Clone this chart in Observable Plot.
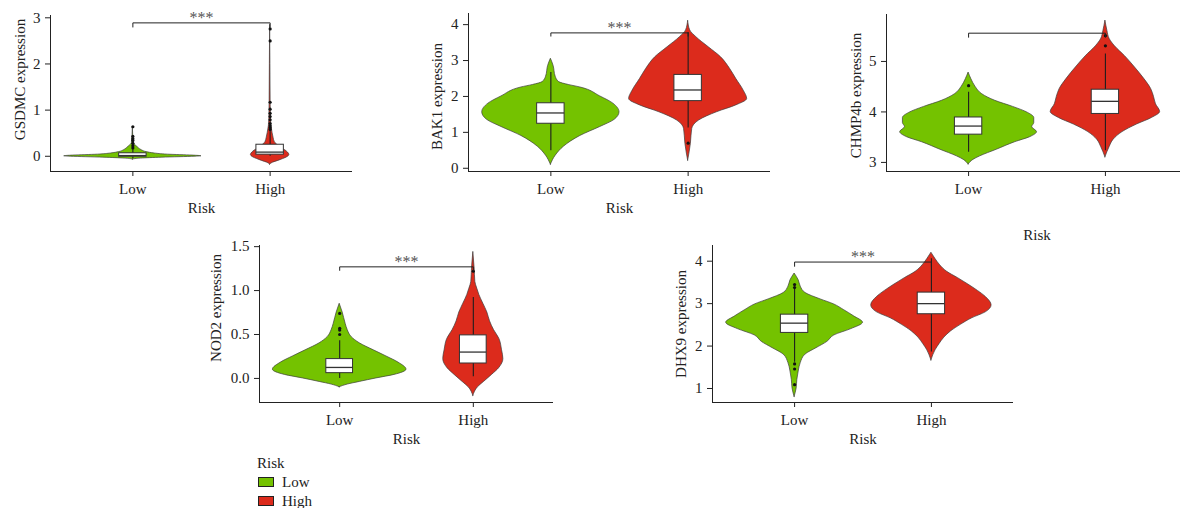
<!DOCTYPE html>
<html>
<head>
<meta charset="utf-8">
<script src="https://cdn.jsdelivr.net/npm/d3@7"></script>
<script src="https://cdn.jsdelivr.net/npm/@observablehq/plot@0.6"></script>
<style>
  html, body { margin: 0; padding: 0; background: #fff; }
  #root { position: relative; width: 1180px; height: 508px; overflow: hidden; background: #fff;
          font-family: "Liberation Serif", "DejaVu Serif", serif; color: #222; }
  .panel { position: absolute; }
  .legend { position: absolute; font-size: 15px; line-height: 1; }
  .sw { position: absolute; width: 14px; height: 8px; border: 1px solid #222; }
  .lt { position: absolute; white-space: nowrap; }
</style>
</head>
<body>
<div id="root"></div>
<script>
// ---------------- DATA ----------------
const CATS = ["Low", "High"];

// violin profiles: [expression value, relative density (1 = widest violin)]
const GSDMC_LOW_VIOLIN = [[-0.07,0],[-0.05,0.12],[-0.03,0.43],[-0.01,0.9],[0,1],[0.015,0.87],[0.035,0.51],[0.06,0.32],[0.09,0.2],[0.13,0.13],[0.17,0.09],[0.21,0.06],[0.25,0.03],[0.28,0.015],[0.64,0]];
const GSDMC_HIGH_VIOLIN = [[-0.18,0],[-0.14,0.04],[-0.1,0.12],[-0.06,0.19],[-0.02,0.25],[0.03,0.28],[0.08,0.26],[0.13,0.22],[0.18,0.16],[0.23,0.12],[0.3,0.07],[0.4,0.05],[0.5,0.036],[0.65,0.019],[0.8,0.012],[1.2,0.007],[2.0,0.004],[2.85,0]];
const BAK1_LOW_VIOLIN = [[0.1,0],[0.35,0.07],[0.6,0.19],[0.9,0.43],[1.15,0.72],[1.35,0.93],[1.56,1],[1.8,0.91],[2.0,0.72],[2.25,0.43],[2.32,0.26],[2.4,0.12],[2.55,0.07],[2.85,0.04],[3.05,0]];
const BAK1_HIGH_VIOLIN = [[0.21,0],[0.68,0.04],[1.1,0.06],[1.33,0.16],[1.56,0.42],[1.75,0.7],[1.93,0.86],[2.16,0.81],[2.49,0.7],[2.77,0.61],[3.09,0.48],[3.37,0.3],[3.65,0.12],[3.84,0.03],[4.11,0]];
const CHMP4B_LOW_VIOLIN = [[2.96,0],[3.05,0.07],[3.12,0.17],[3.25,0.41],[3.4,0.68],[3.5,0.9],[3.6,1],[3.7,0.93],[3.78,0.96],[3.88,0.96],[3.98,0.87],[4.1,0.65],[4.22,0.39],[4.35,0.2],[4.5,0.1],[4.65,0.04],[4.78,0]];
const CHMP4B_HIGH_VIOLIN = [[3.1,0],[3.3,0.06],[3.45,0.12],[3.6,0.25],[3.75,0.46],[3.88,0.68],[4.0,0.8],[4.15,0.74],[4.3,0.71],[4.45,0.67],[4.65,0.57],[4.9,0.42],[5.1,0.29],[5.3,0.14],[5.45,0.06],[5.6,0.03],[5.81,0]];
const NOD2_LOW_VIOLIN = [[-0.1,0],[-0.07,0.12],[-0.04,0.3],[0,0.55],[0.04,0.82],[0.1,1],[0.18,0.88],[0.25,0.7],[0.32,0.51],[0.4,0.3],[0.47,0.18],[0.55,0.12],[0.62,0.09],[0.75,0.045],[0.85,0]];
const NOD2_HIGH_VIOLIN = [[-0.2,0],[-0.1,0.07],[-0.04,0.16],[0.04,0.28],[0.12,0.39],[0.22,0.45],[0.32,0.43],[0.45,0.39],[0.55,0.31],[0.65,0.25],[0.75,0.21],[0.85,0.15],[0.95,0.09],[1.02,0.06],[1.1,0.03],[1.25,0.02],[1.44,0]];
const DHX9_LOW_VIOLIN = [[0.8,0],[1.0,0.03],[1.2,0.04],[1.4,0.06],[1.6,0.09],[1.8,0.16],[1.95,0.32],[2.1,0.48],[2.25,0.58],[2.4,0.83],[2.55,1],[2.7,0.87],[2.85,0.72],[2.98,0.58],[3.1,0.38],[3.25,0.16],[3.4,0.09],[3.55,0.06],[3.71,0]];
const DHX9_HIGH_VIOLIN = [[1.66,0],[1.9,0.06],[2.05,0.12],[2.2,0.19],[2.35,0.29],[2.5,0.43],[2.65,0.59],[2.8,0.8],[2.96,0.88],[3.15,0.8],[3.3,0.68],[3.45,0.54],[3.6,0.39],[3.75,0.23],[3.9,0.13],[4.05,0.06],[4.2,0]];

// boxplots: [lower whisker, Q1, median, Q3, upper whisker]
const GSDMC_LOW_BOX = [-0.05, -0.01, 0.015, 0.065, 0.16];
const GSDMC_HIGH_BOX = [0.0, 0.035, 0.09, 0.25, 0.55];
const BAK1_LOW_BOX = [0.49, 1.24, 1.54, 1.81, 2.67];
const BAK1_HIGH_BOX = [1.12, 1.87, 2.18, 2.60, 3.78];
const CHMP4B_LOW_BOX = [3.20, 3.55, 3.72, 3.89, 4.39];
const CHMP4B_HIGH_BOX = [3.23, 3.96, 4.21, 4.44, 5.15];
const NOD2_LOW_BOX = [0.0, 0.06, 0.125, 0.22, 0.43];
const NOD2_HIGH_BOX = [0.02, 0.17, 0.30, 0.49, 0.92];
const DHX9_LOW_BOX = [1.62, 2.31, 2.54, 2.74, 3.35];
const DHX9_HIGH_BOX = [1.86, 2.75, 3.00, 3.26, 4.06];

// outliers
const GSDMC_LOW_OUT = [0.18, 0.23, 0.28, 0.34, 0.38, 0.43, 0.64];
const GSDMC_HIGH_OUT = [0.58, 0.62, 0.66, 0.71, 0.79, 0.86, 0.93, 1.02, 1.17, 2.50, 2.76];
const BAK1_LOW_OUT = [];
const BAK1_HIGH_OUT = [0.70];
const CHMP4B_LOW_OUT = [4.52];
const CHMP4B_HIGH_OUT = [5.31, 5.51];
const NOD2_LOW_OUT = [0.50, 0.55, 0.57, 0.74];
const NOD2_HIGH_OUT = [1.22];
const DHX9_LOW_OUT = [1.09, 1.46, 1.58, 3.38, 3.45];
const DHX9_HIGH_OUT = [];

// significance brackets: [bar level, tick end level], label
const GSDMC_BRACKET = [2.89, 2.80];
const BAK1_BRACKET = [3.77, 3.68];
const CHMP4B_BRACKET = [5.56, 5.48];
const NOD2_BRACKET = [1.27, 1.23];
const DHX9_BRACKET = [3.98, 3.88];
const SIG_LABELS = ["***", "***", "", "***", "***"];

// axes
const Y_LABELS = ["GSDMC expression", "BAK1 expression", "CHMP4b expression", "NOD2 expression", "DHX9 expression"];
const Y_TICKS = [[0, 1, 2, 3], [0, 1, 2, 3, 4], [3, 4, 5], [0, 0.5, 1, 1.5], [1, 2, 3, 4]];
const Y_DOMAINS = [[-0.33, 3.05], [-0.09, 4.31], [2.82, 5.93], [-0.274, 1.513], [0.67, 4.37]];
const X_LABEL = "Risk";
const LEGEND_TITLE = "Risk";

// ---------------- STYLE / LAYOUT ----------------
const FILLS = ["#74c200", "#dc2b1c"];
const FONT = '"Liberation Serif", "DejaVu Serif", serif';
const LAYOUT = [
  {left: 0,   top: 0,   width: 360, height: 220, ml: 50, mr: 8,  mt: 15, mb: 49, ylx: -30.5, yly: -14, xly: 37},
  {left: 400, top: 0,   width: 380, height: 220, ml: 68, mr: 10, mt: 13, mb: 49, ylx: -31, yly: 4, xly: 37},
  {left: 820, top: 0,   width: 380, height: 245, ml: 66, mr: 13, mt: 14, mb: 74, ylx: -30, yly: 2.5, xly: 64},
  {left: 190, top: 230, width: 370, height: 220, ml: 69, mr: 7,  mt: 15, mb: 48, ylx: -43.5, yly: -16, xly: 37},
  {left: 640, top: 230, width: 380, height: 220, ml: 72, mr: 7,  mt: 15, mb: 48, ylx: -31, yly: 0, xly: 37}
];
const HALF_VIOLIN = 0.5, HALF_BOX = 0.1;

const PANELS = [
  {violins: [GSDMC_LOW_VIOLIN, GSDMC_HIGH_VIOLIN], boxes: [GSDMC_LOW_BOX, GSDMC_HIGH_BOX], outs: [GSDMC_LOW_OUT, GSDMC_HIGH_OUT], bracket: GSDMC_BRACKET},
  {violins: [BAK1_LOW_VIOLIN, BAK1_HIGH_VIOLIN], boxes: [BAK1_LOW_BOX, BAK1_HIGH_BOX], outs: [BAK1_LOW_OUT, BAK1_HIGH_OUT], bracket: BAK1_BRACKET},
  {violins: [CHMP4B_LOW_VIOLIN, CHMP4B_HIGH_VIOLIN], boxes: [CHMP4B_LOW_BOX, CHMP4B_HIGH_BOX], outs: [CHMP4B_LOW_OUT, CHMP4B_HIGH_OUT], bracket: CHMP4B_BRACKET},
  {violins: [NOD2_LOW_VIOLIN, NOD2_HIGH_VIOLIN], boxes: [NOD2_LOW_BOX, NOD2_HIGH_BOX], outs: [NOD2_LOW_OUT, NOD2_HIGH_OUT], bracket: NOD2_BRACKET},
  {violins: [DHX9_LOW_VIOLIN, DHX9_HIGH_VIOLIN], boxes: [DHX9_LOW_BOX, DHX9_HIGH_BOX], outs: [DHX9_LOW_OUT, DHX9_HIGH_OUT], bracket: DHX9_BRACKET}
];

const root = document.getElementById("root");

PANELS.forEach((p, i) => {
  const L = LAYOUT[i];
  const marks = [];
  // violins
  p.violins.forEach((prof, g) => {
    const c = g + 1;
    const data = prof.map(([v, d]) => ({v, d})).sort((a, b) => a.v - b.v);
    marks.push(Plot.areaX(data, {
      y: "v", x1: d => c - d.d * HALF_VIOLIN, x2: d => c + d.d * HALF_VIOLIN,
      fill: FILLS[g], stroke: "#3c3c3c", strokeWidth: 0.7, curve: "monotone-y"
    }));
  });
  // boxplots
  const boxes = p.boxes.map(([lo, q1, med, q3, hi], g) => ({c: g + 1, lo, q1, med, q3, hi}));
  marks.push(Plot.ruleX(boxes, {x: "c", y1: "lo", y2: "hi", stroke: "#1e1e1e", strokeWidth: 1.1}));
  marks.push(Plot.rect(boxes, {x1: d => d.c - HALF_BOX, x2: d => d.c + HALF_BOX, y1: "q1", y2: "q3", fill: "white", stroke: "#333", strokeWidth: 1}));
  marks.push(Plot.ruleY(boxes, {y: "med", x1: d => d.c - HALF_BOX, x2: d => d.c + HALF_BOX, stroke: "#333", strokeWidth: 1.3}));
  // outliers
  const outs = [];
  p.outs.forEach((arr, g) => arr.forEach(v => outs.push({c: g + 1, v})));
  marks.push(Plot.dot(outs, {x: "c", y: "v", r: 1.6, fill: "#111", stroke: "none"}));
  // significance bracket
  const [top, tick] = p.bracket;
  marks.push(Plot.line([{x: 1, y: tick}, {x: 1, y: top}, {x: 2, y: top}, {x: 2, y: tick}], {x: "x", y: "y", stroke: "#222", strokeWidth: 1}));
  if (SIG_LABELS[i]) {
    marks.push(Plot.text([SIG_LABELS[i]], {x: () => 1.5, y: () => top, text: d => d, lineAnchor: "bottom", dy: 0, fill: "#555", fontSize: 16}));
  }
  // axis lines
  marks.push(Plot.ruleY([Y_DOMAINS[i][0]], {stroke: "#222", strokeWidth: 1}));
  marks.push(Plot.ruleX([0.4], {stroke: "#222", strokeWidth: 1}));
  // axis titles
  marks.push(Plot.text([Y_LABELS[i]], {frameAnchor: "left", text: d => d, rotate: -90, textAnchor: "middle", lineAnchor: "middle", dx: L.ylx, dy: L.yly, fontSize: 15, fill: "#222"}));
  marks.push(Plot.text([X_LABEL], {frameAnchor: "bottom", text: d => d, textAnchor: "middle", lineAnchor: "middle", dy: L.xly, fontSize: 15, fill: "#222"}));

  const chart = Plot.plot({
    width: L.width, height: L.height,
    marginLeft: L.ml, marginRight: L.mr, marginTop: L.mt, marginBottom: L.mb,
    style: {fontFamily: FONT, fontSize: "15px", background: "transparent", color: "#222", overflow: "visible"},
    x: {domain: [0.4, 2.6], ticks: [1, 2], tickFormat: d => CATS[d - 1], tickSize: 5, tickPadding: 7, label: null},
    y: {domain: Y_DOMAINS[i], ticks: Y_TICKS[i], tickFormat: i === 3 ? d3.format(".1f") : d3.format("d"), tickSize: 5, tickPadding: 5, label: null},
    marks
  });
  chart.classList.add("panel");
  chart.style.left = L.left + "px";
  chart.style.top = L.top + "px";
  root.appendChild(chart);
});

// legend
const leg = document.createElement("div");
leg.className = "legend";
leg.style.left = "0px"; leg.style.top = "0px";
const title = document.createElement("div");
title.className = "lt"; title.textContent = LEGEND_TITLE;
title.style.left = "257px"; title.style.top = "456px";
leg.appendChild(title);
CATS.forEach((c, g) => {
  const sw = document.createElement("div");
  sw.className = "sw"; sw.style.background = FILLS[g];
  sw.style.left = "258px"; sw.style.top = (477 + g * 19) + "px";
  leg.appendChild(sw);
  const t = document.createElement("div");
  t.className = "lt"; t.textContent = c;
  t.style.left = "282px"; t.style.top = (475 + g * 19) + "px";
  leg.appendChild(t);
});
root.appendChild(leg);
</script>
</body>
</html>
